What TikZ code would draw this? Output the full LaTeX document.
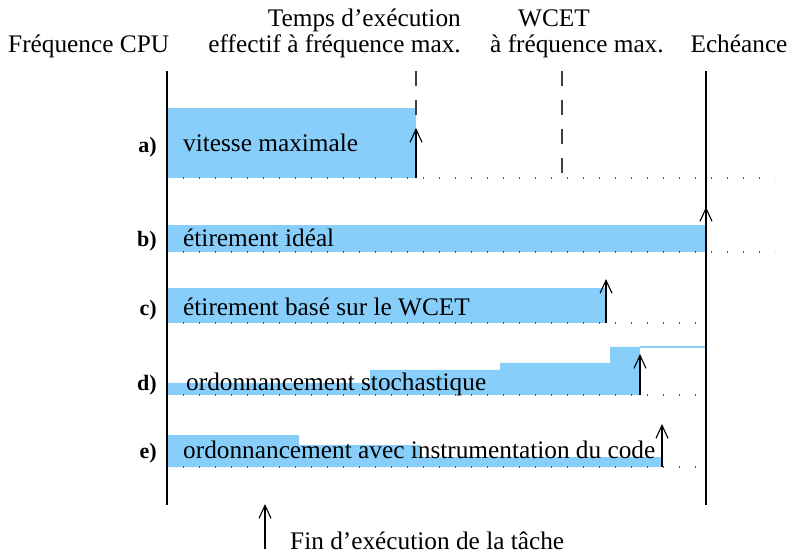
\documentclass[tikz,border=0pt]{standalone}
\usepackage{fontspec}
\setmainfont{Liberation Serif}
\usetikzlibrary{arrows.meta}
\definecolor{barblue}{RGB}{135,206,250}
\tikzset{
  bar/.style={fill=barblue, draw=none},
  axisline/.style={line width=1.8pt, black},
  vdash/.style={line width=1.2pt, black!75, dash pattern=on 15pt off 14pt},
  dotline/.style={line width=1.4pt, black!65, dash pattern=on 1.4pt off 14.6pt},
  endarrow/.style={line width=1.3pt, -{Straight Barb[length=13pt,width=12pt,line width=1.1pt]}},
  txt/.style={inner sep=0pt, font=\fontsize{25.3}{26}\selectfont},
  lbl/.style={inner sep=0pt, anchor=base east, font=\fontsize{22}{24}\selectfont\bfseries}
}
\begin{document}
\begin{tikzpicture}[x=1pt,y=-1pt]
\useasboundingbox (0,0) rectangle (793,553);
% bars
\fill[bar] (167,108) rectangle (416,178);
\fill[bar] (167,225) rectangle (706,252);
\fill[bar] (167,288) rectangle (606,323);
\fill[bar] (167,395) -- (167,383) -- (370,383) -- (370,370) -- (500,370) -- (500,363) -- (610,363) -- (610,347) -- (640,347) -- (640,395) -- cycle;
\draw[barblue, line width=1.2pt] (640,347) -- (706,347);
\fill[bar] (167,467) -- (167,435) -- (299,435) -- (299,445) -- (419,445) -- (419,457) -- (661,457) -- (661,467) -- cycle;
% dotted baselines
\draw[dotline] (167,178) -- (775,178);
\draw[dotline] (167,252) -- (775,252);
\draw[dotline] (167,323) -- (710,323);
\draw[dotline] (167,395) -- (710,395);
\draw[dotline] (167,467) -- (710,467);
% axes
\draw[axisline] (167,71) -- (167,505);
\draw[axisline] (706,71) -- (706,505);
\draw[vdash] (416,71) -- (416,178);
\draw[vdash] (562,71) -- (562,178);
% arrows (task end)
\coordinate (aS) at (416,178); \coordinate (aE) at (416,128);
\coordinate (bS) at (706,252); \coordinate (bE) at (706,207);
\coordinate (cS) at (606,323); \coordinate (cE) at (606,279);
\coordinate (dS) at (640,395); \coordinate (dE) at (640,354);
\coordinate (eS) at (662,467); \coordinate (eE) at (662,424);
\coordinate (fS) at (265,549); \coordinate (fE) at (265,504);
\draw[endarrow] (aS) -- (aE);
\draw[endarrow] (bS) -- (bE);
\draw[endarrow] (cS) -- (cE);
\draw[endarrow] (dS) -- (dE);
\draw[endarrow] (eS) -- (eE);
\draw[endarrow] (fS) -- (fE);
% row texts
\node[txt, anchor=base west] (ta) at (183,152) {vitesse maximale};
\node[txt, anchor=base west] (tb) at (183,247) {étirement idéal};
\node[txt, anchor=base west] (tc) at (183,316) {étirement basé sur le WCET};
\node[txt, anchor=base west] (td) at (186,391) {ordonnancement stochastique};
\node[txt, anchor=base west] (te) at (183,458) {ordonnancement avec instrumentation du code};
% row labels
\node[lbl] (la) at (157,153) {a)};
\node[lbl] (lb) at (157,247) {b)};
\node[lbl] (lc) at (157,316) {c)};
\node[lbl] (ld) at (157,391) {d)};
\node[lbl] (le) at (157,458) {e)};
% header
\node[txt, anchor=base west] (hfreq) at (8,53) {Fréquence CPU};
\node[txt, anchor=base east] (htemps1) at (461,27) {Temps d’exécution};
\node[txt, anchor=base east] (htemps2) at (461,53) {effectif à fréquence max.};
\node[txt, anchor=base] (hwcet1) at (554,27) {WCET};
\node[txt, anchor=base west] (hwcet2) at (490,53) {à fréquence max.};
\node[txt, anchor=base] (hech) at (739,53) {Echéance};
% legend
\node[txt, anchor=base west] (leg) at (290,549) {Fin d’exécution de la tâche};
\end{tikzpicture}
\end{document}
